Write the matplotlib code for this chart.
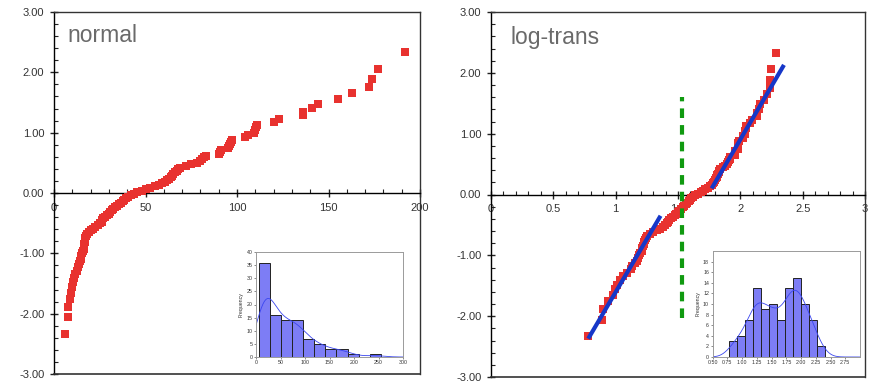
import numpy as np
import matplotlib
matplotlib.use("Agg")
import matplotlib.pyplot as plt
from matplotlib.ticker import MultipleLocator, FuncFormatter

plt.rcParams['font.family'] = ['Liberation Sans', 'DejaVu Sans']

# ---------------- data ----------------
# sorted raw values (x of the normal Q-Q plot)
raw_values = [6.0, 7.8, 7.9, 8.7, 9.5, 9.9, 10.2, 10.8, 11.5, 12.3,
              13.2, 13.6, 14.3, 14.8, 15.0, 15.5, 15.8, 16.2, 16.4, 16.6,
              16.8, 17.0, 17.2, 17.5, 18.0, 19.0, 20.0, 21.5, 22.5, 24.0,
              25.0, 26.0, 26.5, 27.0, 28.0, 29.0, 30.0, 30.5, 31.5, 32.5,
              33.5, 34.5, 35.5, 36.5, 37.5, 38.5, 39.5, 40.5, 42.0, 43.5,
              45.5, 48.0, 50.5, 52.5, 55.0, 57.5, 59.0, 60.5, 62.0, 63.0,
              64.0, 64.5, 65.0, 66.0, 67.0, 68.0, 69.0, 72.0, 75.0, 78.0,
              80.0, 81.0, 82.0, 83.0, 90.0, 90.5, 91.0, 95.0, 95.5, 96.0,
              96.5, 97.0, 104.5, 106.0, 109.5, 110.0, 110.5, 111.0, 120.0, 123.0,
              136.0, 136.0, 141.0, 144.0, 155.0, 163.0, 172.0, 174.0, 177.0, 192.0]
# expected normal scores (y of both Q-Q plots)
normal_scores = [-2.330, -2.058, -1.885, -1.755, -1.650, -1.560, -1.481, -1.410, -1.346, -1.287,
                 -1.232, -1.180, -1.132, -1.087, -1.043, -1.001, -0.961, -0.922, -0.885, -0.849,
                 -0.814, -0.780, -0.746, -0.714, -0.682, -0.651, -0.621, -0.591, -0.562, -0.533,
                 -0.504, -0.476, -0.449, -0.421, -0.394, -0.368, -0.341, -0.315, -0.289, -0.264,
                 -0.238, -0.213, -0.187, -0.162, -0.137, -0.112, -0.087, -0.062, -0.037, -0.012,
                 0.012, 0.037, 0.062, 0.087, 0.112, 0.137, 0.162, 0.187, 0.213, 0.238,
                 0.264, 0.289, 0.315, 0.341, 0.368, 0.394, 0.421, 0.449, 0.476, 0.504,
                 0.533, 0.562, 0.591, 0.621, 0.651, 0.682, 0.714, 0.746, 0.780, 0.814,
                 0.849, 0.885, 0.922, 0.961, 1.001, 1.043, 1.087, 1.132, 1.180, 1.232,
                 1.287, 1.346, 1.410, 1.481, 1.560, 1.650, 1.755, 1.885, 2.058, 2.330]

# fitted lines on the log-trans panel
fit_low_x = [0.78, 1.36]
fit_low_y = [-2.37, -0.35]
fit_high_x = [1.77, 2.35]
fit_high_y = [0.10, 2.13]
# cut-off marker (green dashed)
cut_x = 1.53
cut_y = [-2.03, 1.61]

# histogram of raw values
raw_bin_left = [6.0, 28.6, 51.2, 73.8, 96.4, 119.0, 141.6, 164.2, 186.8, 209.4, 232.0]
raw_bin_width = 22.6
raw_counts = [36, 16, 14, 14, 7, 5, 3, 3, 1, 0, 1]
# histogram of log values
log_bin_left = [0.780, 0.915, 1.050, 1.185, 1.320, 1.455, 1.590, 1.725, 1.860, 1.995, 2.130, 2.265]
log_bin_width = 0.135
log_counts = [3, 4, 7, 13, 9, 10, 7, 13, 15, 10, 7, 2]

panel_titles = ["normal", "log-trans"]

# ---------------- style ----------------
RED = '#e8322f'
BLUE = '#1637c8'
GREEN = '#109a10'
BAR = '#7d7df5'
TXT = '#333333'

W, H = 874, 383
fig = plt.figure(figsize=(W / 100, H / 100), dpi=100)


def frac(x0, y0, x1, y1):
    return [x0 / W, 1 - y1 / H, (x1 - x0) / W, (y1 - y0) / H]


def style_main(ax, xlim, xmajor, xminor, xfmt):
    ax.set_xlim(*xlim)
    ax.set_ylim(-3, 3)
    ax.spines['bottom'].set_position(('data', 0))
    ax.spines['bottom'].set_linewidth(1.0)
    ax.spines['left'].set_linewidth(1.0)
    for s in ('top', 'right'):
        ax.spines[s].set_color('#333333')
        ax.spines[s].set_linewidth(1.0)
    ax.plot([0, 1], [0, 0], transform=ax.transAxes, color='#333333', lw=1.2,
            clip_on=False, zorder=5)
    ax.xaxis.set_major_locator(MultipleLocator(xmajor))
    ax.xaxis.set_minor_locator(MultipleLocator(xminor))
    ax.yaxis.set_major_locator(MultipleLocator(1.0))
    ax.yaxis.set_minor_locator(MultipleLocator(0.2))
    ax.xaxis.set_major_formatter(FuncFormatter(xfmt))
    ax.yaxis.set_major_formatter(FuncFormatter(lambda v, p: f"{v:.2f}"))
    ax.tick_params(axis='both', which='major', direction='inout', length=6, width=1,
                   labelsize=8, labelcolor=TXT, color='#222222')
    ax.tick_params(axis='x', which='major', pad=4)
    ax.tick_params(axis='y', which='major', pad=4)
    ax.tick_params(axis='both', which='minor', direction='in', length=3, width=0.8,
                   color='#222222')


def style_inset(ax, xlim, xticks, xlabels, ylim, yticks):
    ax.set_facecolor('white')
    ax.set_xlim(*xlim)
    ax.set_ylim(*ylim)
    ax.set_xticks(xticks)
    ax.set_xticklabels(xlabels)
    ax.set_yticks(yticks)
    for s in ax.spines.values():
        s.set_color('#9a9a9a')
        s.set_linewidth(0.7)
    ax.tick_params(labelsize=3.8, length=1.5, width=0.4, pad=1, colors='#333333')
    ax.set_ylabel('Frequency', fontsize=3.8, labelpad=2, color='#333333')


def kde_curve(grid, left, width, counts, bw):
    centers = np.asarray(left) + width / 2
    c = np.asarray(counts, dtype=float)
    g = np.asarray(grid)[:, None]
    dens = (c * np.exp(-0.5 * ((g - centers) / bw) ** 2)).sum(axis=1)
    return dens * width / (bw * np.sqrt(2 * np.pi))


x_raw = np.asarray(raw_values)
y_q = np.asarray(normal_scores)

# ---------------- left panel ----------------
ax1 = fig.add_axes(frac(54, 12, 420, 374))
style_main(ax1, (0, 200), 50, 10, lambda v, p: f"{v:g}")
ax1.plot(x_raw, y_q, 's', color=RED, ms=5.5, mew=0, zorder=3)
ax1.text(0.036, 0.967, panel_titles[0], transform=ax1.transAxes, ha='left', va='top',
         fontsize=16.5, color='#6a6a6a')

# ---------------- right panel ----------------
ax2 = fig.add_axes(frac(491, 12, 865, 377))
style_main(ax2, (0, 3), 0.5, 0.1, lambda v, p: f"{v:g}")
ax2.plot(np.log10(x_raw), y_q, 's', color=RED, ms=5.5, mew=0, zorder=3)
ax2.plot(fit_low_x, fit_low_y, color=BLUE, lw=3, solid_capstyle='butt', zorder=4)
ax2.plot(fit_high_x, fit_high_y, color=BLUE, lw=3, solid_capstyle='butt', zorder=4)
ax2.plot([cut_x, cut_x], cut_y, color=GREEN, lw=3, dashes=(2.3, 1.7), zorder=4)
ax2.text(0.051, 0.962, panel_titles[1], transform=ax2.transAxes, ha='left', va='top',
         fontsize=16.5, color='#6a6a6a')

# ---------------- insets ----------------
in1 = fig.add_axes(frac(256, 252, 403, 357), zorder=10)
in1.bar(raw_bin_left, raw_counts, width=raw_bin_width, align='edge', color=BAR,
        edgecolor='#222222', linewidth=0.7)
g1 = np.linspace(0, 300, 400)
in1.plot(g1, kde_curve(g1, raw_bin_left, raw_bin_width, raw_counts, 19.0),
         color='#3a46f0', lw=0.6)
style_inset(in1, (0, 300), list(range(0, 301, 50)), [str(v) for v in range(0, 301, 50)],
            (0, 40), list(range(0, 41, 5)))

in2 = fig.add_axes(frac(712.5, 251, 860, 357), zorder=10)
in2.bar(log_bin_left, log_counts, width=log_bin_width, align='edge', color=BAR,
        edgecolor='#222222', linewidth=0.7)
g2 = np.linspace(0.5, 3.0, 400)
in2.plot(g2, kde_curve(g2, log_bin_left, log_bin_width, log_counts, 0.13),
         color='#3a46f0', lw=0.6)
xt2 = [0.5, 0.75, 1.0, 1.25, 1.5, 1.75, 2.0, 2.25, 2.5, 2.75]
style_inset(in2, (0.5, 3.0), xt2, [f"{v:.2f}" for v in xt2],
            (0, 20), list(range(0, 19, 2)))

fig.savefig("out.png", dpi=100)
